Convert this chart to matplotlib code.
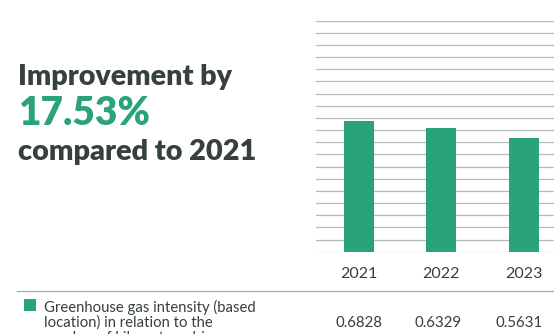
import matplotlib
matplotlib.use("Agg")
import matplotlib.pyplot as plt
import numpy as np

# Data
years = ["2021", "2022", "2023"]
intensity = [0.6828, 0.6329, 0.5631]
value_labels = ["0.6828", "0.6329", "0.5631"]
headline_line1 = "Improvement by"
headline_pct = "17.53%"
headline_line3 = "compared to 2021"
legend_lines = ["Greenhouse gas intensity (based",
                "location) in relation to the",
                "number of kilometres driven"]

GREEN = "#2ba37a"
DARK = "#36403f"
GRID = "#b3babe"

W, H = 554, 334
DPI = 100
fig = plt.figure(figsize=(W / DPI, H / DPI), dpi=DPI)
fig.patch.set_facecolor("white")


def fx(px):
    return px / W


def fy(py):
    return 1 - py / H


plt.rcParams["font.family"] = ["Lato", "DejaVu Sans"]

# Bar panel
ax_left, ax_right, ax_top, ax_bottom = 315.7, 556, 20.7, 251.7
ax = fig.add_axes([fx(ax_left), fy(ax_bottom), fx(ax_right - ax_left),
                   (ax_bottom - ax_top) / H])
base = -0.197
top = 1.353
x = np.arange(len(years))
vals = np.array(intensity)
ax.bar(x, vals - base, bottom=base, width=0.364, color=GREEN, zorder=3)
ax.set_ylim(base, top)
ax.set_xlim(-0.525, 2.39)
for gy in np.linspace(base, top, 20):
    ax.axhline(gy, color=GRID, lw=0.9, zorder=1)
for s in ax.spines.values():
    s.set_visible(False)
ax.set_xticks(x)
ax.set_xticklabels(years, fontsize=11.5, color=DARK)
ax.tick_params(axis="x", length=0, pad=11)
ax.set_yticks([])

# Headline
HW = "heavy"
fig.text(fx(18.5), fy(85), headline_line1, fontsize=20.6, fontweight=HW,
         color=DARK, va="baseline", ha="left")
fig.text(fx(18), fy(125), headline_pct, fontsize=28, fontweight=HW,
         color=GREEN, va="baseline", ha="left")
fig.text(fx(18.5), fy(160), headline_line3, fontsize=20.8, fontweight=HW,
         color=DARK, va="baseline", ha="left")

# Separator above the legend row
fig.add_artist(plt.Line2D([fx(16.7), fx(556)], [fy(290.7), fy(290.7)],
                          color="#a7aeb2", lw=0.9))

# Legend swatch and label (the label continues below the bottom edge)
fig.add_artist(plt.Rectangle((fx(24), fy(311)), fx(12), 12 / H,
                             color=GREEN, lw=0))
legend_baselines = [312.3, 326.8, 342.5]
for line, by in zip(legend_lines, legend_baselines):
    fig.text(fx(44), fy(by), line, fontsize=10.7, color=DARK,
             va="baseline", ha="left")

# Values row
value_x = [359, 438.5, 519]
for vx, lab in zip(value_x, value_labels):
    fig.text(fx(vx), fy(326.8), lab, fontsize=10.8, color=DARK,
             va="baseline", ha="center")

fig.savefig("out.png", dpi=DPI, facecolor="white")
